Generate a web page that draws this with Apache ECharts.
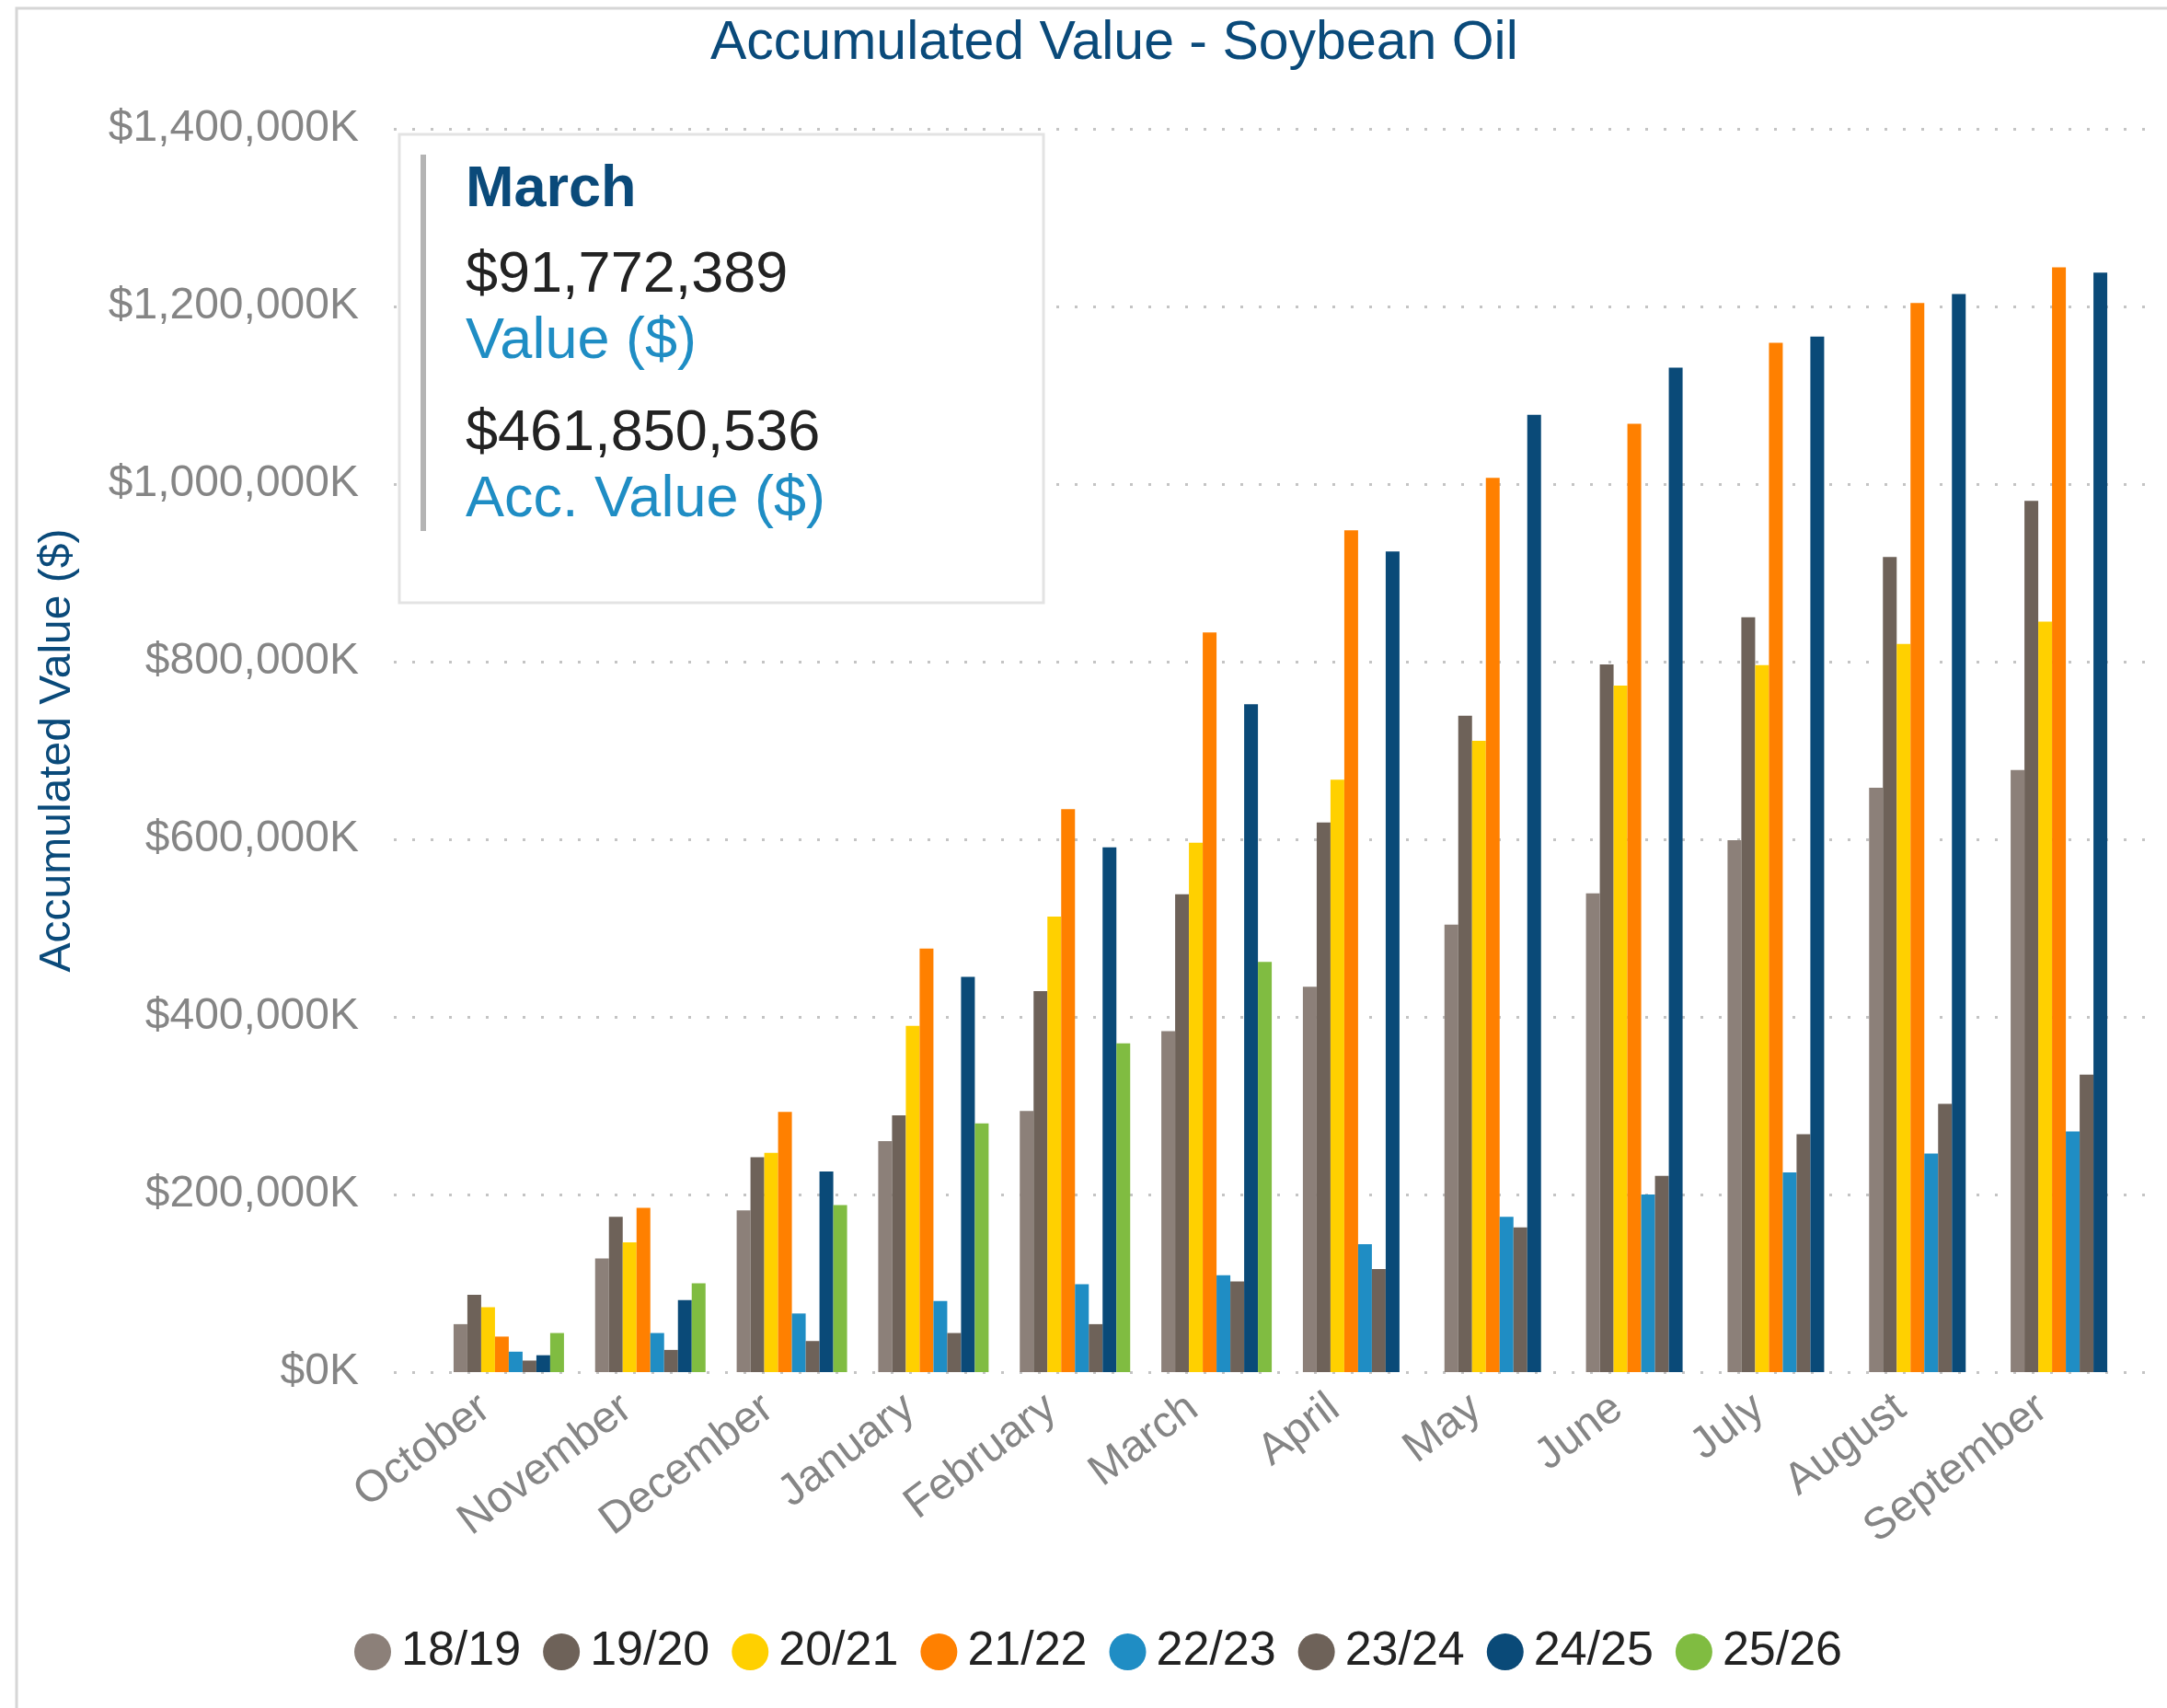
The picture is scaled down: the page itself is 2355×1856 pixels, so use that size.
<!DOCTYPE html>
<html>
<head>
<meta charset="utf-8">
<script src="https://cdn.jsdelivr.net/npm/echarts@6/dist/echarts.min.js"></script>
<style>
  html, body { margin: 0; padding: 0; background: #fff; }
  #chart { width: 2355px; height: 1856px; }
</style>
</head>
<body>
<div id="chart"></div>
<script>
// values in thousands of dollars (K)
const months = ["October", "November", "December", "January", "February", "March",
  "April", "May", "June", "July", "August", "September"];
const seasons = ["18/19", "19/20", "20/21", "21/22", "22/23", "23/24", "24/25", "25/26"];
const colors = ["#8c8079", "#6e6259", "#ffd000", "#ff8000", "#1f8dc4", "#6e6259", "#0a4a78", "#80bc41"];

const s1819 = [54000, 128000, 182000, 260000, 294000, 384000, 434000, 504000, 539000, 599000, 658000, 678000];
const s1920 = [87000, 175000, 242000, 289000, 429000, 538000, 619000, 739000, 797000, 850000, 918000, 981000];
const s2021 = [73000, 146000, 247000, 390000, 513000, 596000, 667000, 711000, 773000, 796000, 820000, 845000];
const s2122 = [40000, 185000, 293000, 477000, 634000, 833000, 948000, 1007000, 1068000, 1159000, 1204000, 1244000];
const s2223 = [23000, 44000, 66000, 80000, 99000, 109000, 144000, 175000, 200000, 225000, 246000, 271000];
const s2324 = [13000, 25000, 35000, 44000, 54000, 102000, 116000, 163000, 221000, 268000, 302000, 335000];
const s2425 = [19000, 81000, 226000, 445000, 591000, 752000, 924000, 1078000, 1131000, 1166000, 1214000, 1238000];
const s2526 = [44000, 100000, 188000, 280000, 370078, 461851, null, null, null, null, null, null];

const yTicks = { min: 0, max: 1400000, interval: 200000 };

// the hovered-month box shown in the picture
const tipMonth = "March";
const tipValue = "$91,772,389";
const tipValueName = "Value ($)";
const tipAcc = "$461,850,536";
const tipAccName = "Acc. Value ($)";

const font = "Liberation Sans, Arial, Helvetica, sans-serif";
const allSeries = [s1819, s1920, s2021, s2122, s2223, s2324, s2425, s2526];

const chart = echarts.init(document.getElementById("chart"));

const option = {
  animation: false,
  textStyle: { fontFamily: font },
  title: {
    text: "Accumulated Value - Soybean Oil",
    left: 767,
    top: 13,
    textStyle: { color: "#0a4a7a", fontSize: 59, fontWeight: "normal", fontFamily: font }
  },
  legend: {
    data: seasons,
    left: 380,
    top: 1764,
    icon: "circle",
    itemWidth: 40,
    itemHeight: 40,
    itemGap: 24,
    textStyle: { color: "#222", fontSize: 52, fontFamily: font, padding: [0, 0, 0, 6] }
  },
  grid: [
    { left: 428, right: 10, top: 140, bottom: 365 },
    { left: 476, right: 33, top: 140, bottom: 365 }
  ],
  xAxis: [
    { gridIndex: 0, type: "value", show: false },
    {
      gridIndex: 1,
      type: "category",
      data: months,
      axisLine: { show: false },
      axisTick: { show: false },
      axisLabel: {
        rotate: 37, color: "#858585", fontSize: 48, margin: 15, interval: 0,
        padding: [0, 32, 0, 0]
      }
    }
  ],
  yAxis: [
    {
      gridIndex: 0,
      type: "value",
      min: yTicks.min,
      max: yTicks.max,
      interval: yTicks.interval,
      name: "Accumulated Value ($)",
      nameLocation: "middle",
      nameGap: 341,
      nameTextStyle: { color: "#0a4a7a", fontSize: 48 },
      axisLine: { show: false },
      axisTick: { show: false },
      axisLabel: {
        color: "#858585",
        fontSize: 48,
        margin: 38,
        formatter: v => "$" + v.toLocaleString("en-US") + "K"
      },
      splitLine: { lineStyle: { color: "#c4c4c4", width: 3, type: [3, 17] } }
    },
    { gridIndex: 1, type: "value", min: yTicks.min, max: yTicks.max, interval: yTicks.interval, show: false }
  ],
  series: seasons.map((name, i) => ({
    name: name,
    type: "bar",
    xAxisIndex: 1,
    yAxisIndex: 1,
    barGap: "0%",
    barCategoryGap: "22%",
    itemStyle: { color: colors[i] },
    data: allSeries[i]
  })),
  graphic: [
    // outer frame
    { type: "rect", shape: { x: 18, y: 9, width: 2500, height: 2000 },
      style: { fill: "none", stroke: "#d6d6d6", lineWidth: 3 }, silent: true },
    // tooltip box
    { type: "rect", shape: { x: 434, y: 146, width: 700, height: 509 },
      style: { fill: "#fff", stroke: "#e3e3e3", lineWidth: 3 }, z: 100 },
    { type: "rect", shape: { x: 457, y: 168, width: 6, height: 409 },
      style: { fill: "#b4b4b4" }, z: 101 },
    { type: "text", x: 506, y: 207, z: 101,
      style: { text: tipMonth, fill: "#0a4a7a", font: "bold 63px " + font, verticalAlign: "middle" } },
    { type: "text", x: 506, y: 300, z: 101,
      style: { text: tipValue, fill: "#222", font: "63px " + font, verticalAlign: "middle" } },
    { type: "text", x: 506, y: 372, z: 101,
      style: { text: tipValueName, fill: "#1f8dc4", font: "63px " + font, verticalAlign: "middle" } },
    { type: "text", x: 506, y: 472, z: 101,
      style: { text: tipAcc, fill: "#222", font: "63px " + font, verticalAlign: "middle" } },
    { type: "text", x: 506, y: 544, z: 101,
      style: { text: tipAccName, fill: "#1f8dc4", font: "63px " + font, verticalAlign: "middle" } }
  ]
};

chart.setOption(option);
</script>
</body>
</html>
